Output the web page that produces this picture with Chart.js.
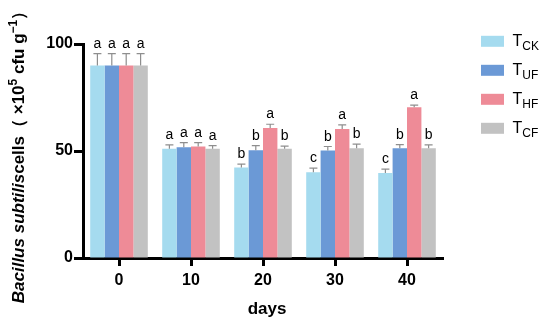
<!DOCTYPE html>
<html>
<head>
<meta charset="utf-8">
<script src="https://cdn.jsdelivr.net/npm/chart.js@4.4.1/dist/chart.umd.min.js"></script>
<style>
  html, body { margin: 0; padding: 0; background: #fff; }
</style>
</head>
<body>
<canvas id="chart" width="550" height="329"></canvas>
<script>
const days = ['0', '10', '20', '30', '40'];
const groupNames = ['CK', 'UF', 'HF', 'CF'];

const valCK = [90, 51.0, 42.3, 40.1, 39.7];
const valUF = [90, 51.8, 50.4, 50.2, 51.3];
const valHF = [90, 52.1, 60.7, 60.3, 70.5];
const valCF = [90, 51.0, 51.0, 51.3, 51.3];

const errCK = [5.5, 1.9, 1.6, 1.9, 1.8];
const errUF = [5.5, 2.1, 2.1, 1.9, 1.7];
const errHF = [5.5, 1.8, 1.8, 1.9, 0.9];
const errCF = [5.5, 1.5, 1.3, 1.9, 1.6];

const sigCK = ['a', 'a', 'b', 'c', 'c'];
const sigUF = ['a', 'a', 'b', 'b', 'b'];
const sigHF = ['a', 'a', 'a', 'a', 'a'];
const sigCF = ['a', 'a', 'b', 'b', 'b'];

const yTicks = [0, 50, 100];

const colors = ['#a5dbef', '#6b99d6', '#ee8b97', '#c2c2c2'];
const FONT = "'Liberation Sans', Arial, sans-serif";

const values = [valCK, valUF, valHF, valCF];
const errors = [errCK, errUF, errHF, errCF];
const letters = [sigCK, sigUF, sigHF, sigCF];

// error bars + significance letters
const errorBarPlugin = {
  id: 'errorBars',
  afterDatasetsDraw(chart) {
    const ctx = chart.ctx;
    const y = chart.scales.y;
    ctx.save();
    chart.data.datasets.forEach((ds, i) => {
      const meta = chart.getDatasetMeta(i);
      meta.data.forEach((bar, j) => {
        const top = y.getPixelForValue(values[i][j] + errors[i][j]);
        ctx.strokeStyle = '#8e8e8e';
        ctx.lineWidth = 1.2;
        ctx.beginPath();
        ctx.moveTo(bar.x, bar.y);
        ctx.lineTo(bar.x, top);
        ctx.moveTo(bar.x - 4, top);
        ctx.lineTo(bar.x + 4, top);
        ctx.stroke();

        ctx.fillStyle = '#000';
        ctx.font = '14px ' + FONT;
        ctx.textAlign = 'center';
        ctx.textBaseline = 'alphabetic';
        ctx.fillText(letters[i][j], bar.x, top - 6);
      });
    });
    ctx.restore();
  }
};

// legend with subscripts, axis titles
const annotPlugin = {
  id: 'annot',
  afterDraw(chart) {
    const ctx = chart.ctx;
    ctx.save();

    // legend
    groupNames.forEach((name, i) => {
      const cy = 41.3 + i * 29;
      ctx.fillStyle = colors[i];
      ctx.fillRect(481, cy - 5.5, 23, 11);
      ctx.fillStyle = '#000';
      ctx.textAlign = 'left';
      ctx.textBaseline = 'alphabetic';
      ctx.font = '16px ' + FONT;
      ctx.fillText('T', 512.5, cy + 5);
      const tw = ctx.measureText('T').width;
      ctx.font = '12px ' + FONT;
      ctx.fillText(name, 512.5 + tw, cy + 8.5);
    });

    // x title
    ctx.font = 'bold 17px ' + FONT;
    ctx.textAlign = 'center';
    ctx.fillText('days', 267, 314);

    // y title (rotated, mixed styles)
    const parts = [
      { t: 'Bacillus subtilis', f: 'italic bold 17px ' + FONT, dy: 0 },
      { t: 'cells（ ×10', f: 'bold 17px ' + FONT, dy: 0 },
      { t: '5', f: 'bold 12px ' + FONT, dy: -7 },
      { t: ' cfu g', f: 'bold 17px ' + FONT, dy: 0 },
      { t: '−1', f: 'bold 12px ' + FONT, dy: -7 },
      { t: '）', f: 'bold 17px ' + FONT, dy: 0 }
    ];
    let total = 0;
    parts.forEach(p => { ctx.font = p.f; p.w = ctx.measureText(p.t).width; total += p.w; });
    ctx.translate(24, 153);
    ctx.rotate(-Math.PI / 2);
    ctx.textAlign = 'left';
    let x = -total / 2;
    parts.forEach(p => {
      ctx.font = p.f;
      ctx.fillText(p.t, x, p.dy);
      x += p.w;
    });
    ctx.restore();
  }
};

new Chart(document.getElementById('chart'), {
  type: 'bar',
  data: {
    labels: days,
    datasets: groupNames.map((name, i) => ({
      label: 'T' + name,
      data: values[i],
      backgroundColor: colors[i],
      borderWidth: 0,
      categoryPercentage: 0.8,
      barPercentage: 1.0
    }))
  },
  options: {
    responsive: false,
    devicePixelRatio: 1,
    animation: false,
    layout: { padding: { left: 0, right: 107, top: 44, bottom: 0 } },
    plugins: { legend: { display: false }, tooltip: { enabled: false } },
    scales: {
      x: {
        offset: true,
        grid: { offset: false, drawOnChartArea: false, drawTicks: true, tickLength: 8, tickWidth: 3, tickColor: '#000' },
        border: { display: true, color: '#000', width: 3 },
        ticks: { color: '#000', padding: 5, font: { family: FONT, size: 16, weight: 'bold' } },
        afterFit: s => { s.height = 71; }
      },
      y: {
        min: 0,
        max: 100,
        afterBuildTicks: s => { s.ticks = yTicks.map(v => ({ value: v })); },
        grid: { drawOnChartArea: false, drawTicks: true, tickLength: 9, tickWidth: 3, tickColor: '#000' },
        border: { display: true, color: '#000', width: 3 },
        ticks: { color: '#000', padding: 1, font: { family: FONT, size: 16, weight: 'bold' } },
        afterFit: s => { s.width = 83; }
      }
    }
  },
  plugins: [errorBarPlugin, annotPlugin]
});
</script>
</body>
</html>
